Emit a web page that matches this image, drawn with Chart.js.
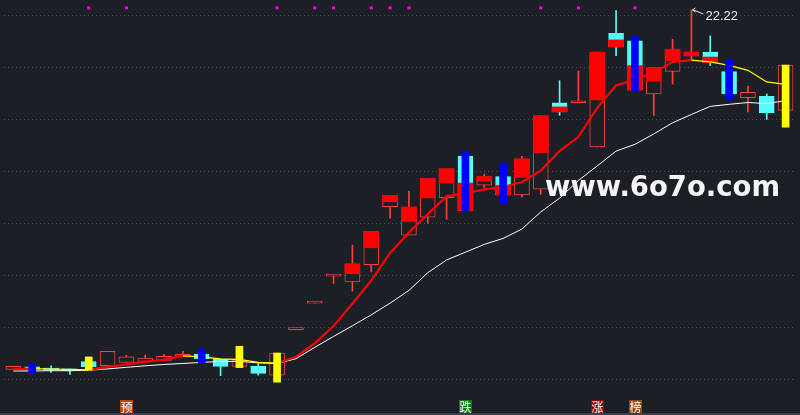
<!DOCTYPE html>
<html>
<head>
<meta charset="utf-8">
<script src="https://cdn.jsdelivr.net/npm/chart.js@4.4.1/dist/chart.umd.min.js"></script>
<style>
    html, body { margin: 0; padding: 0; background: #1c1f26; overflow: hidden; }
</style>
</head>
<body>
<canvas id="kChart" width="800" height="415"></canvas>
<script>
// Daily bars, left to right
const days = Array.from({ length: 42 }, (_, i) => 'D' + (i + 1));

const opens = [8.39, 8.49, 8.39, 8.36, 8.69, 8.53, 8.66, 8.70, 8.74, 8.89,
    8.98, 8.78, 8.51, 8.51, 8.17, 9.92, 10.94, 11.98, 11.76, 12.42,
    14.65, 13.56, 14.25, 15.00, 16.60, 15.48, 15.81, 15.10, 15.33, 18.65,
    18.65, 16.95, 21.32, 21.03, 18.99, 19.86, 20.44, 20.60, 19.85, 18.85,
    18.90, 18.36];
const highs = [8.51, 8.49, 8.53, 8.40, 8.69, 9.09, 8.94, 8.94, 8.97, 9.09,
    8.98, 8.78, 8.73, 8.61, 9.02, 9.92, 10.94, 12.05, 13.17, 13.70,
    15.09, 15.24, 15.73, 16.11, 16.60, 15.91, 15.81, 16.59, 18.15, 19.50,
    19.87, 20.60, 22.20, 21.03, 20.00, 21.09, 22.22, 21.22, 19.85, 19.29,
    18.99, 20.10];
const lows = [8.39, 8.39, 8.27, 8.20, 8.50, 8.53, 8.66, 8.64, 8.74, 8.89,
    8.80, 8.15, 8.51, 8.17, 8.17, 9.92, 10.94, 11.70, 11.40, 12.14,
    14.21, 13.56, 14.02, 14.17, 14.50, 15.38, 15.10, 15.03, 15.13, 18.17,
    18.65, 16.95, 20.46, 19.14, 18.16, 19.37, 20.31, 20.08, 18.99, 18.30,
    18.01, 18.36];
const closes = [8.51, 8.39, 8.36, 8.34, 8.50, 9.09, 8.87, 8.83, 8.89, 8.97,
    8.80, 8.51, 8.73, 8.24, 9.02, 9.92, 10.94, 12.05, 12.45, 13.70,
    15.09, 14.64, 15.73, 16.11, 14.50, 15.81, 15.10, 16.49, 18.15, 18.30,
    18.71, 20.60, 20.80, 19.14, 20.00, 20.71, 20.60, 20.19, 18.99, 19.05,
    18.26, 20.10];

// Moving averages (short one changes colour with direction)
const maShort = [8.40, 8.42, 8.40, 8.39, 8.37, 8.49, 8.58, 8.68, 8.77, 8.91,
    8.87, 8.79, 8.78, 8.66, 8.63, 8.88, 9.39, 10.06, 10.92, 11.81,
    12.87, 13.66, 14.37, 15.05, 15.17, 15.32, 15.41, 15.60, 16.04, 16.79,
    17.34, 18.45, 19.32, 19.53, 19.81, 20.22, 20.29, 20.22, 20.09, 19.90,
    19.45, 19.36];
const maLong = [8.33, 8.33, 8.34, 8.34, 8.36, 8.41, 8.47, 8.53, 8.58, 8.62,
    8.66, 8.70, 8.70, 8.64, 8.62, 8.80, 9.24, 9.66, 10.07, 10.49,
    10.94, 11.43, 12.11, 12.60, 12.90, 13.20, 13.43, 13.79, 14.45, 14.98,
    15.66, 16.22, 16.79, 17.05, 17.45, 17.88, 18.20, 18.51, 18.59, 18.66,
    18.62, 18.73];

// Indicator boxes: [day index, low, high]
const redBoxes = [[18, 12.07, 12.45], [19, 13.07, 13.70], [20, 14.84, 15.09], [21, 14.08, 14.64],
    [22, 14.99, 15.73], [23, 15.56, 16.11], [24, 14.50, 15.56], [25, 15.63, 15.81],
    [26, 15.10, 15.47], [27, 15.78, 16.49], [28, 16.73, 18.15], [29, 18.30, 18.49],
    [31, 18.76, 20.60], [32, 20.80, 21.07], [33, 19.14, 20.08], [34, 19.48, 20.00],
    [35, 20.27, 20.71], [36, 20.50, 20.60], [37, 20.19, 20.41]];
const blueBars = [[1, 8.22, 8.59], [10, 8.65, 9.17], [24, 14.50, 16.75], [26, 14.76, 16.30],
    [33, 19.08, 21.20], [38, 18.76, 20.30]];
const yellowBars = [[4, 8.36, 8.87], [12, 8.46, 9.28], [14, 7.90, 9.02], [41, 17.71, 20.10]];

// Top markers and bottom signal characters
const markDays = [4, 6, 14, 16, 17, 19, 20, 21, 28, 30, 33];
const signalDays = [[6, '预'], [24, '跌'], [31, '涨'], [33, '榜']];

const yTicks = [8, 10, 12, 14, 16, 18, 20, 22];
const watermark = 'www.6o7o.com';

const BG = '#1c1f26';
const UP = '#ff3d3d';
const DOWN = '#54fcfc';
const signalColors = { '预': '#b5470f', '跌': '#117c11', '涨': '#8a0d0d', '榜': '#98480f' };

function spread(list) {
    const out = days.map(() => null);
    list.forEach(([i, lo, hi]) => { out[i] = [lo, hi]; });
    return out;
}

const isUp = i => closes[i] >= opens[i];

const bgPlugin = {
    id: 'bg',
    beforeDraw(chart) {
        const c = chart.ctx;
        c.save();
        c.fillStyle = BG;
        c.fillRect(0, 0, chart.width, chart.height);
        c.restore();
    }
};

const overlayPlugin = {
    id: 'overlay',
    afterDraw(chart) {
        const c = chart.ctx;
        const xs = chart.scales.x;
        const ys = chart.scales.y;
        c.save();

        // watermark
        c.font = 'bold 29px "DejaVu Sans"';
        c.fillStyle = '#f4f4f4';
        c.textBaseline = 'alphabetic';
        const w = c.measureText(watermark).width;
        c.translate(545, 196);
        c.scale(235 / w, 1);
        c.fillText(watermark, 0, 0);
        c.setTransform(1, 0, 0, 1, 0, 0);

        // highest price pointer
        let top = 0;
        highs.forEach((h, i) => { if (h > highs[top]) top = i; });
        const px = xs.getPixelForValue(top);
        const py = ys.getPixelForValue(highs[top]);
        c.strokeStyle = '#e8e8e8';
        c.lineWidth = 1;
        c.beginPath();
        c.moveTo(px + 4, py - 2);
        c.lineTo(px + 1, py);
        c.lineTo(px + 4, py + 2);
        c.moveTo(px + 2, py);
        c.lineTo(px + 12, py + 4);
        c.stroke();
        c.font = '13px "Liberation Sans"';
        c.fillStyle = '#f0f0f0';
        c.textBaseline = 'middle';
        c.fillText(highs[top].toFixed(2), px + 14, py + 6);

        // signal characters
        c.font = '12px "Noto Sans CJK SC"';
        c.textAlign = 'center';
        signalDays.forEach(([i, ch]) => {
            const x = xs.getPixelForValue(i);
            c.fillStyle = signalColors[ch];
            c.fillRect(Math.round(x) - 6, 400, 13, 13);
            c.fillStyle = '#ffffff';
            c.fillText(ch, Math.round(x) + 0.5, 407);
        });

        // bottom edge
        c.fillStyle = '#3a404c';
        c.fillRect(0, 413, chart.width, 2);
        c.restore();
    }
};

const ctx = document.getElementById('kChart').getContext('2d');
new Chart(ctx, {
    data: {
        labels: days,
        datasets: [
            {
                type: 'bar',
                label: 'wick',
                data: days.map((_, i) => [lows[i], highs[i]]),
                backgroundColor: c => isUp(c.dataIndex) ? UP : DOWN,
                barThickness: 1,
                grouped: false,
                order: 10
            },
            {
                type: 'bar',
                label: 'body',
                data: days.map((_, i) => [opens[i], closes[i]]),
                backgroundColor: c => isUp(c.dataIndex) ? BG : DOWN,
                borderColor: c => isUp(c.dataIndex) ? UP : DOWN,
                borderWidth: 1,
                borderSkipped: false,
                minBarLength: 2,
                barThickness: 15,
                grouped: false,
                order: 9
            },
            {
                type: 'bar',
                label: 'red',
                data: spread(redBoxes),
                backgroundColor: '#ff0000',
                barThickness: 15,
                grouped: false,
                order: 8
            },
            {
                type: 'line',
                label: 'maLong',
                data: maLong,
                borderColor: '#ffffff',
                borderWidth: 1,
                pointRadius: 0,
                order: 7
            },
            {
                type: 'line',
                label: 'maShort',
                data: maShort,
                borderColor: '#ff0000',
                borderWidth: 2.2,
                pointRadius: 0,
                segment: {
                    borderColor: s => s.p1.parsed.y >= s.p0.parsed.y ? '#ff0000' : '#ffff00',
                    borderWidth: s => s.p1.parsed.y >= s.p0.parsed.y ? 2.2 : 1.3
                },
                order: 6
            },
            {
                type: 'bar',
                label: 'blue',
                data: spread(blueBars),
                backgroundColor: '#0000ff',
                barThickness: 7,
                grouped: false,
                order: 5
            },
            {
                type: 'bar',
                label: 'yellow',
                data: spread(yellowBars),
                backgroundColor: '#ffff00',
                barThickness: 7,
                grouped: false,
                order: 4
            },
            {
                type: 'line',
                label: 'marks',
                data: days.map((_, i) => markDays.includes(i) ? 22.30 : null),
                showLine: false,
                pointStyle: 'rect',
                pointRadius: 2.2,
                pointBackgroundColor: '#ee00ee',
                pointBorderWidth: 0,
                order: 3
            }
        ]
    },
    options: {
        responsive: false,
        animation: false,
        devicePixelRatio: 1,
        layout: { padding: { left: 0, right: 5, top: 0, bottom: 0 } },
        plugins: {
            legend: { display: false },
            tooltip: { enabled: false }
        },
        scales: {
            x: {
                display: false,
                offset: true
            },
            y: {
                min: 6.79,
                max: 22.45,
                afterBuildTicks: axis => { axis.ticks = yTicks.map(v => ({ value: v })); },
                ticks: { display: false },
                border: { display: false, dash: [1, 3] },
                grid: {
                    color: '#4a505c',
                    lineWidth: 1,
                    drawTicks: false,
                    tickLength: 0
                },
                afterFit: axis => { axis.width = 0; }
            }
        }
    },
    plugins: [bgPlugin, overlayPlugin]
});
</script>
</body>
</html>
